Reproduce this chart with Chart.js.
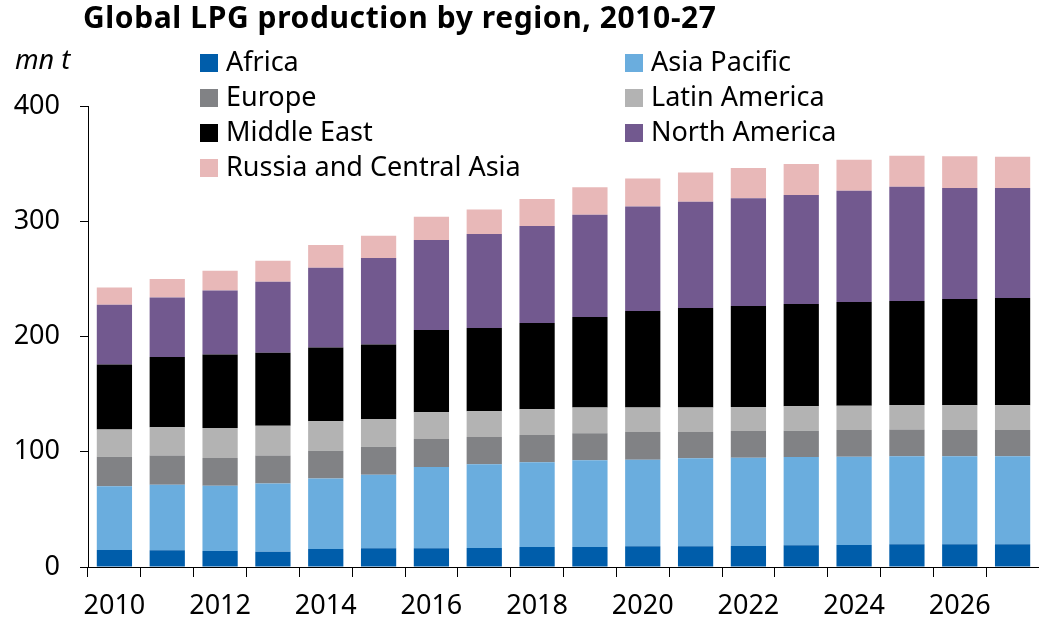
<!DOCTYPE html>
<html>
<head>
<meta charset="utf-8">
<script src="https://cdn.jsdelivr.net/npm/chart.js@4"></script>
<style>
  body { margin: 0; background: #fff; font-family: "Noto Sans", "Open Sans", sans-serif; }
  #wrap { position: relative; width: 1039px; height: 622px; }
  #title { position: absolute; left: 83px; top: 2px; font-size: 30px; line-height: 30px; letter-spacing: 0.6px; font-weight: bold; color: #000; white-space: nowrap; }
  #unit { position: absolute; left: 15px; top: 40px; font-size: 27px; font-style: italic; color: #000; }
  .leg { position: absolute; font-size: 27px; color: #000; white-space: nowrap; line-height: 30px; }
  .leg span { display: inline-block; width: 18px; height: 18px; margin-right: 8px; vertical-align: -1px; }
</style>
</head>
<body>
<div id="wrap">
  <canvas id="myChart" width="1039" height="622"></canvas>
  <div id="title">Global LPG production by region, 2010-27</div>
  <div id="unit">mn t</div>
  <div id="legend"></div>
</div>
<script>
const years = ['2010', '2011', '2012', '2013', '2014', '2015', '2016', '2017', '2018',
    '2019', '2020', '2021', '2022', '2023', '2024', '2025', '2026', '2027'];

const africa       = [14.8, 14.5, 13.9, 13.3, 15.7, 16.2, 16.2, 16.5, 17.4, 17.4, 17.9, 17.9, 18.2, 18.8, 19.1, 19.7, 19.7, 19.7];
const asiaPacific  = [55.3, 56.8, 56.5, 59.2, 61.1, 63.8, 70.6, 72.6, 73.4, 75.2, 75.2, 76.4, 76.7, 76.6, 76.6, 76.3, 76.3, 76.3];
const europe       = [25.6, 25.5, 24.1, 24.3, 24.1, 24.3, 24.3, 23.7, 23.7, 23.4, 24.0, 22.8, 23.1, 22.9, 23.2, 23.2, 22.9, 22.9];
const latinAmerica = [23.7, 24.4, 26.1, 25.8, 25.5, 24.1, 23.1, 22.3, 22.3, 22.3, 21.4, 21.4, 20.8, 21.1, 21.1, 21.4, 21.4, 21.4];
const middleEast   = [56.3, 61.1, 63.7, 63.2, 64.0, 64.6, 71.4, 72.3, 74.9, 78.6, 83.6, 86.2, 87.7, 88.8, 89.9, 90.2, 92.2, 93.1];
const northAmerica = [51.8, 51.6, 55.7, 61.7, 69.3, 75.1, 78.1, 81.5, 84.2, 88.8, 90.6, 92.3, 93.4, 94.6, 96.6, 99.2, 96.4, 95.5];
const russiaCA     = [15.1, 16.0, 17.1, 18.3, 19.7, 19.4, 20.3, 21.4, 23.4, 23.7, 24.3, 25.4, 26.3, 26.9, 26.9, 26.9, 27.4, 27.1];

const yTicks = [0, 100, 200, 300, 400];

const series = [
    { label: 'Africa', data: africa, color: 'rgb(0, 93, 170)' },
    { label: 'Asia Pacific', data: asiaPacific, color: 'rgb(106, 173, 222)' },
    { label: 'Europe', data: europe, color: 'rgb(129, 130, 133)' },
    { label: 'Latin America', data: latinAmerica, color: 'rgb(179, 179, 179)' },
    { label: 'Middle East', data: middleEast, color: 'rgb(0, 0, 0)' },
    { label: 'North America', data: northAmerica, color: 'rgb(114, 89, 143)' },
    { label: 'Russia and Central Asia', data: russiaCA, color: 'rgb(232, 184, 184)' },
];

// legend in two columns, row by row
const legendBox = document.getElementById('legend');
series.forEach((s, i) => {
    const d = document.createElement('div');
    d.className = 'leg';
    d.style.left = (i % 2 === 0 ? 200 : 625) + 'px';
    d.style.top = (46 + Math.floor(i / 2) * 35) + 'px';
    d.innerHTML = '<span style="background:' + s.color + '"></span>' + s.label;
    legendBox.appendChild(d);
});

const data = {
    labels: years,
    datasets: series.map(s => ({
        label: s.label,
        data: s.data,
        backgroundColor: s.color,
        borderWidth: 0,
        barPercentage: 0.667,
        categoryPercentage: 1.0
    }))
};

const options = {
    responsive: false,
    animation: false,
    layout: { padding: { top: 106, right: 0, bottom: 0, left: 0 } },
    plugins: {
        legend: { display: false },
        title: { display: false },
        tooltip: { enabled: false }
    },
    scales: {
        x: {
            stacked: true,
            afterFit: scale => { scale.height = 55; },
            grid: {
                offset: true,
                drawOnChartArea: false,
                drawTicks: true,
                tickLength: 10,
                color: '#000'
            },
            border: { display: true, color: '#000', width: 1 },
            ticks: {
                autoSkip: false,
                maxRotation: 0,
                padding: 13,
                color: '#000',
                font: { family: 'Noto Sans', size: 27 },
                callback: (v, i) => (i % 2 === 0 ? years[i] : '')
            }
        },
        y: {
            stacked: true,
            min: 0,
            max: 400,
            afterFit: scale => { scale.width = 88; },
            afterBuildTicks: scale => { scale.ticks = yTicks.map(v => ({ value: v })); },
            grid: {
                drawOnChartArea: false,
                drawTicks: true,
                tickLength: 8,
                color: '#000'
            },
            border: { display: true, color: '#000', width: 1 },
            ticks: {
                padding: 20,
                color: '#000',
                font: { family: 'Noto Sans', size: 27 }
            }
        }
    }
};

const config = {
    type: 'bar',
    data,
    options,
};

const myChart = new Chart(
    document.getElementById('myChart'),
    config
);
</script>
</body>
</html>
